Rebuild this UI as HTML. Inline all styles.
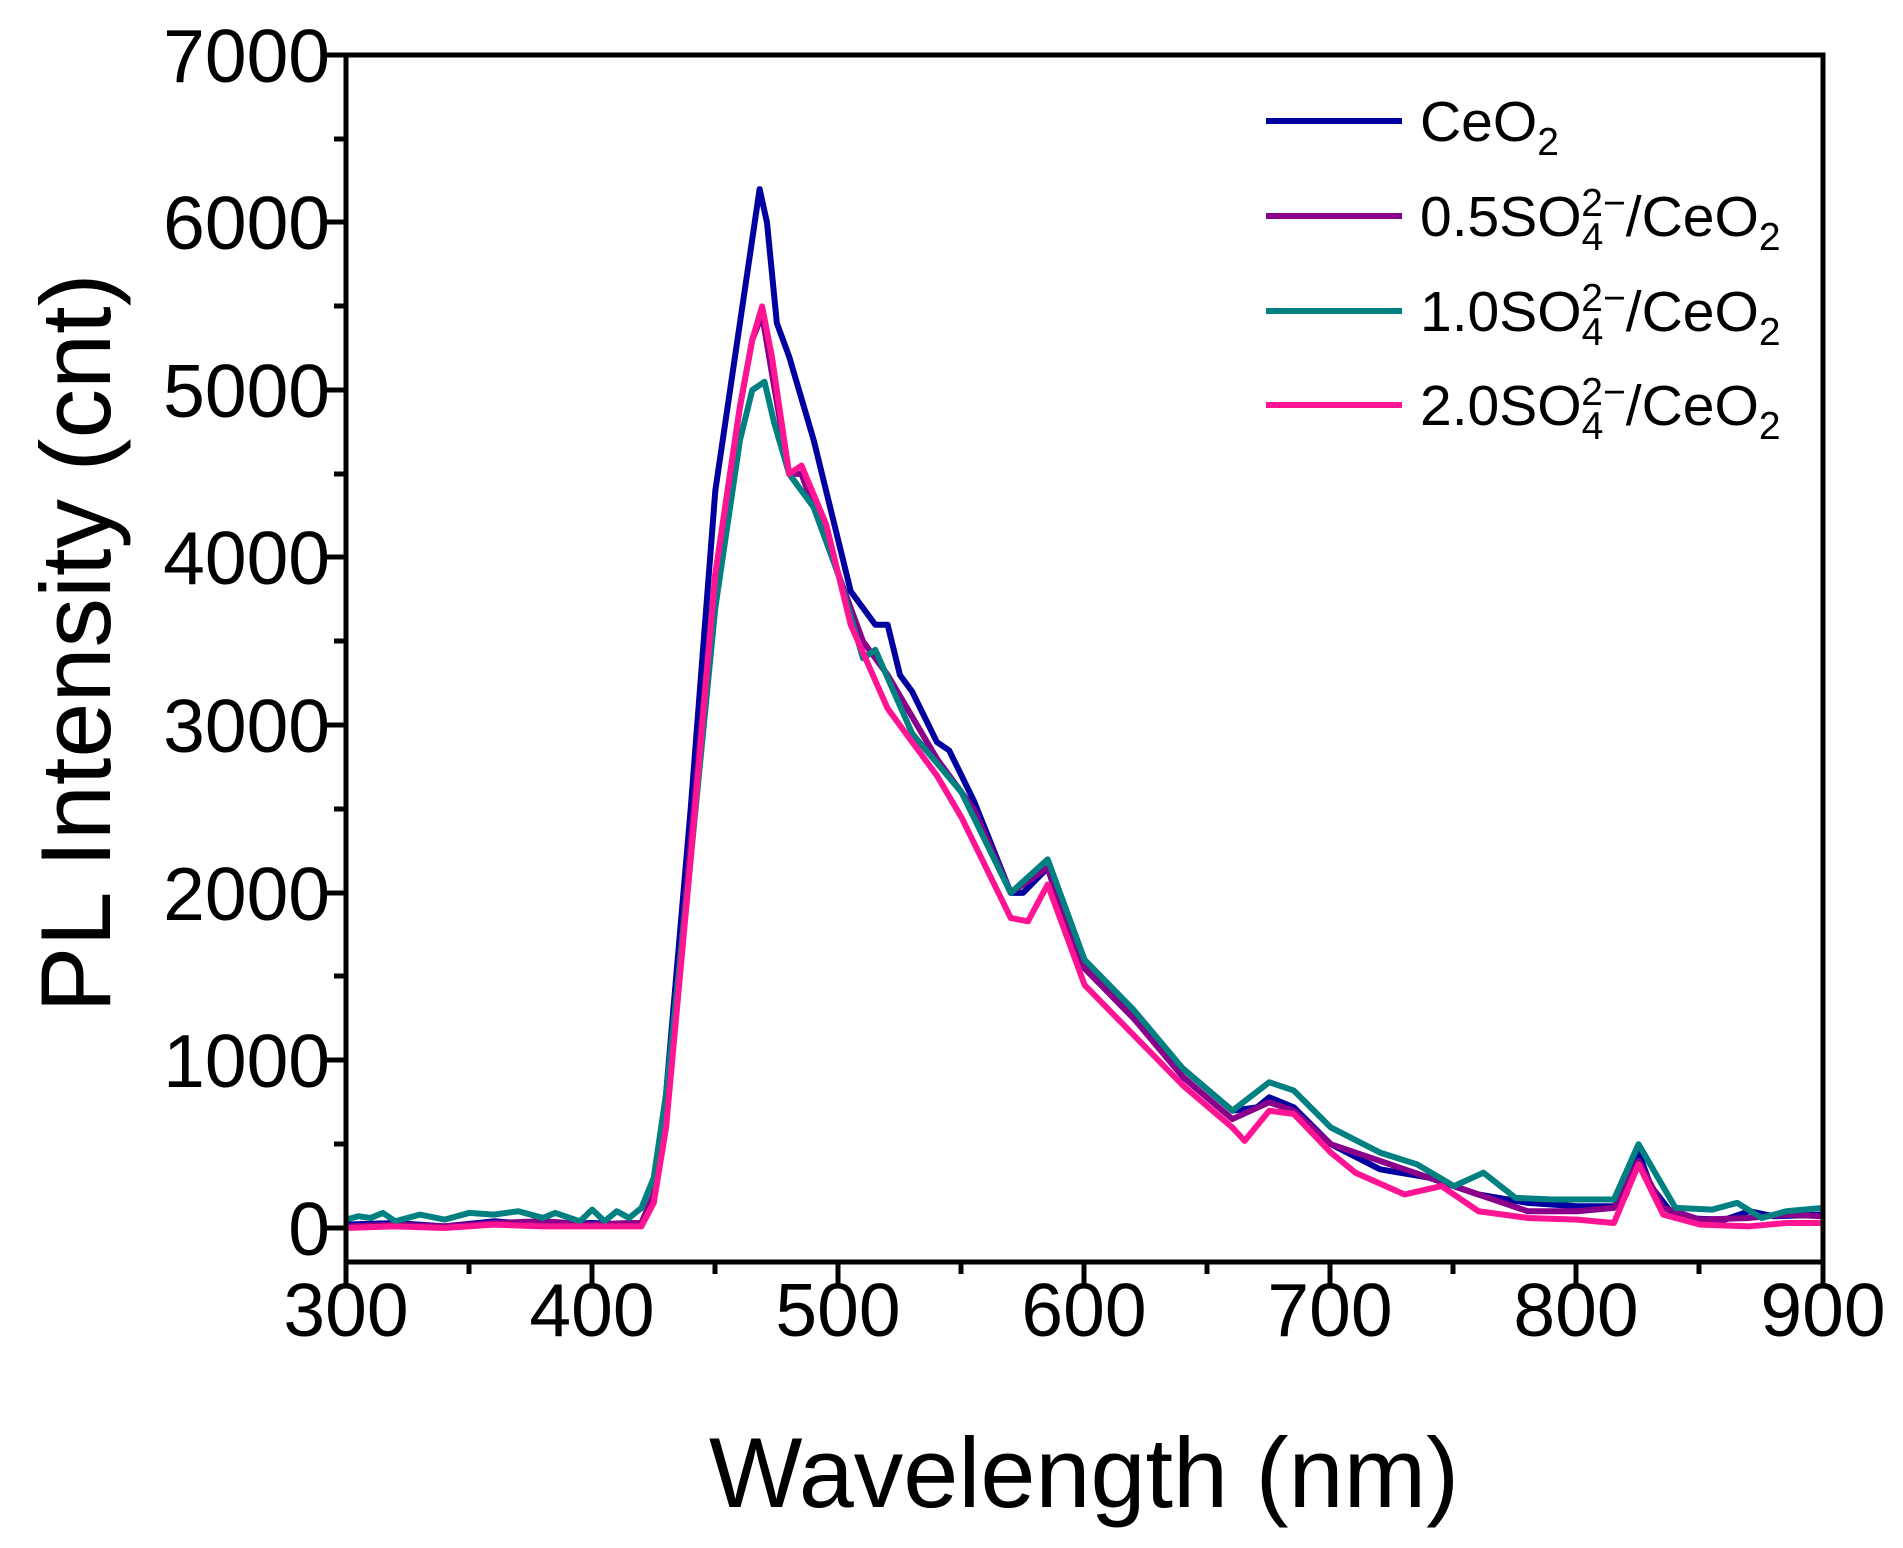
<!DOCTYPE html>
<html><head><style>body{margin:0;background:#fff}svg{display:block}text{font-family:"Liberation Sans",Arial,sans-serif;fill:#000}</style></head>
<body>
<svg width="1903" height="1548" viewBox="0 0 1903 1548" xmlns="http://www.w3.org/2000/svg">
<g fill="none" stroke-linejoin="round" stroke-width="6">
<g transform="translate(346,1228) scale(2.462,-0.16757) translate(-300,0)">
<polyline vector-effect="non-scaling-stroke" stroke="#0000a0" points="300,20 320,30 340,10 360,40 380,20 400,30 415,20 420,30 425,200 430,800 440,2500 450,4400 460,5400 465,5900 468,6200 471,6000 475,5400 480,5200 490,4700 500,4100 505,3800 515,3600 520,3600 525,3300 530,3200 540,2900 545,2850 555,2550 570,2000 575,2000 585,2150 595,1700 600,1550 620,1250 640,950 660,700 670,720 675,780 685,720 700,500 720,350 740,300 760,200 780,150 800,130 815,130 820,200 825,450 830,250 840,60 860,50 870,100 880,70 900,80"/>
<polyline vector-effect="non-scaling-stroke" stroke="#8b008b" points="300,10 320,20 340,10 360,30 380,40 400,20 415,30 420,30 425,200 430,700 440,2300 450,3900 460,4900 465,5300 469,5450 473,5100 480,4500 485,4500 500,3900 510,3500 520,3300 540,2800 555,2500 570,2000 585,2150 600,1550 620,1250 640,900 660,650 675,750 685,700 700,500 720,400 740,300 760,200 780,100 800,100 815,120 825,400 835,120 850,50 870,60 885,80 900,70"/>
<polyline vector-effect="non-scaling-stroke" stroke="#008080" points="300,50 305,70 310,60 315,90 320,40 330,80 340,50 350,90 360,80 370,100 380,60 385,90 395,40 400,110 405,40 410,100 415,60 420,120 425,300 430,800 440,2200 450,3700 460,4700 465,5000 470,5050 474,4800 480,4500 490,4300 500,3900 510,3400 515,3450 530,2950 550,2600 570,2000 585,2200 600,1600 620,1300 640,950 660,700 675,870 685,820 700,600 720,450 735,380 750,250 762,330 775,180 790,170 815,170 825,500 840,120 855,110 865,150 875,60 885,100 900,120"/>
<polyline vector-effect="non-scaling-stroke" stroke="#ff1493" points="300,0 320,10 340,0 360,20 380,10 400,10 420,10 425,150 430,600 440,2200 450,3900 460,4900 465,5300 469,5500 473,5200 480,4500 485,4550 495,4200 505,3600 520,3100 540,2700 550,2450 570,1850 577,1830 585,2050 600,1450 620,1150 640,850 660,600 665,520 675,700 685,680 700,450 710,330 730,200 745,250 760,100 780,60 800,50 815,30 825,380 835,80 850,20 870,10 885,30 900,30"/>
</g>
</g>
<g stroke="#000" stroke-width="5" fill="none">
<rect x="346" y="55" width="1477" height="1207"/>
<path d="M346,1262v24 M469,1262v12 M592,1262v24 M715,1262v12 M838,1262v24 M961,1262v12 M1084,1262v24 M1207,1262v12 M1330,1262v24 M1453,1262v12 M1576,1262v24 M1699,1262v12 M1823,1262v24"/>
<path d="M346,1228h-24 M346,1144h-12 M346,1060h-24 M346,976h-12 M346,893h-24 M346,809h-12 M346,725h-24 M346,641h-12 M346,557h-24 M346,474h-12 M346,390h-24 M346,306h-12 M346,222h-24 M346,139h-12 M346,55h-24"/>
</g>
<g font-size="75" text-anchor="end">
<text x="330" y="1255">0</text><text x="330" y="1087">1000</text><text x="330" y="920">2000</text><text x="330" y="752">3000</text><text x="330" y="584">4000</text><text x="330" y="417">5000</text><text x="330" y="249">6000</text><text x="330" y="82">7000</text>
</g>
<g font-size="75" text-anchor="middle">
<text x="346" y="1336">300</text><text x="592" y="1336">400</text><text x="838" y="1336">500</text><text x="1084" y="1336">600</text><text x="1330" y="1336">700</text><text x="1576" y="1336">800</text><text x="1823" y="1336">900</text>
</g>
<text x="1084" y="1507" font-size="99" text-anchor="middle">Wavelength (nm)</text>
<text transform="translate(110,643) rotate(-90)" font-size="99" text-anchor="middle">PL Intensity (cnt)</text>
<g stroke-width="6">
<line x1="1266" y1="121" x2="1402" y2="121" stroke="#0000a0"/>
<line x1="1266" y1="216" x2="1402" y2="216" stroke="#8b008b"/>
<line x1="1266" y1="311" x2="1402" y2="311" stroke="#008080"/>
<line x1="1266" y1="405" x2="1402" y2="405" stroke="#ff1493"/>
</g>
<g font-size="57">
<text x="1420" y="141">CeO<tspan font-size="39" dy="14">2</tspan></text>
<text x="1420" y="236">0.5SO<tspan font-size="39" dy="14">4</tspan><tspan font-size="39" dx="-22" dy="-34">2−</tspan><tspan dy="20">/CeO</tspan><tspan font-size="39" dy="14">2</tspan></text>
<text x="1420" y="331">1.0SO<tspan font-size="39" dy="14">4</tspan><tspan font-size="39" dx="-22" dy="-34">2−</tspan><tspan dy="20">/CeO</tspan><tspan font-size="39" dy="14">2</tspan></text>
<text x="1420" y="425">2.0SO<tspan font-size="39" dy="14">4</tspan><tspan font-size="39" dx="-22" dy="-34">2−</tspan><tspan dy="20">/CeO</tspan><tspan font-size="39" dy="14">2</tspan></text>
</g>
</svg>
</body></html>
